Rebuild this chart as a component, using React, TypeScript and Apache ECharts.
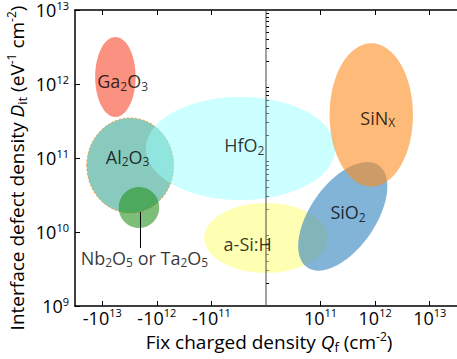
import React, { useEffect, useRef } from 'react';
import * as echarts from 'echarts';

// x axis is a signed-decade scale: -3 => -1e13, -1 => -1e11, 0 => 0, 1 => 1e11, 3 => 1e13
// y axis is log10 of Dit (eV^-1 cm^-2)
const materials = ['Ga2O3', 'Al2O3', 'HfO2', 'Nb2O5', 'a-Si:H', 'SiO2', 'SiNx'];
const centerX = [-2.76, -2.487, -0.466, -2.328, 0.0, 1.408, 1.929];
const centerY = [12.095, 10.899, 11.128, 10.331, 9.919, 10.212, 11.581];
const spreadX = [0.371, 0.797, 1.734, 0.371, 1.132, 1.141, 0.764];
const spreadY = [0.54, 0.642, 0.696, 0.277, 0.473, 0.44, 0.969];
const tiltDeg = [0, 0, 0, 0, 0, 55, 0];

const labelTexts = [
  'Ga{s|2}O{s|3}',
  'Al{s|2}O{s|3}',
  'HfO{s|2}',
  'Nb{s|2}O{s|5} or Ta{s|2}O{s|5}',
  'a-Si:H',
  'SiO{s|2}',
  'SiN{s|X}',
];
const labelX = [-2.627, -2.536, -0.399, -2.228, -0.335, 1.504, 2.047];
const labelY = [12.04, 11.014, 11.169, 9.649, 9.842, 10.27, 11.541];

// leader from the Nb2O5 / Ta2O5 disc down to its label
const leaderX = [-2.3, -2.3];
const leaderY = [10.27, 9.784];

const xTickPos = [-3, -2, -1, 1, 2, 3];
const xTickLabels = ['-10{sup|13}', '-10{sup|12}', '-10{sup|11}', '10{sup|11}', '10{sup|12}', '10{sup|13}'];
const yTickPos = [9, 10, 11, 12, 13];
const yTickLabels = ['10{sup|9}', '10{sup|10}', '10{sup|11}', '10{sup|12}', '10{sup|13}'];

const FONT = 'Open Sans';

const fills = [
  'rgba(248,98,76,0.7)',
  'rgba(57,168,147,0.6)',
  'rgba(153,255,255,0.5)',
  'rgba(38,147,30,0.6)',
  'rgba(255,255,130,0.6)',
  'rgba(47,130,188,0.6)',
  'rgba(252,140,30,0.6)',
];

const supStyle = { fontSize: 11, lineHeight: 12, fontFamily: FONT, color: '#000', padding: [0, 0, 11, 0] };
const ySupStyle = { fontSize: 11, lineHeight: 11, fontFamily: FONT, color: '#000', padding: [0, 0, 9, 0] };
const subStyle = { fontSize: 12, lineHeight: 13, fontFamily: FONT, color: '#000', padding: [10, 0, 0, 0] };
const titleSup = { fontSize: 12, lineHeight: 13, fontFamily: FONT, color: '#000', padding: [0, 0, 12, 0] };
const titleSub = { fontSize: 13, lineHeight: 14, fontFamily: FONT, color: '#000', padding: [10, 0, 0, 0] };

export default function App() {
  const ref = useRef<HTMLDivElement>(null);

  useEffect(() => {
    if (!ref.current) return;
    const chart = echarts.init(ref.current, null, { renderer: 'svg' });

    const minorY: number[] = [];
    for (let d = 9; d < 13; d++) {
      for (let k = 2; k <= 9; k++) minorY.push(d + Math.log10(k));
    }

    const regionData = materials.map((_, i) => [centerX[i], centerY[i], spreadX[i], spreadY[i], tiltDeg[i], i]);
    const labelData = materials.map((_, i) => [labelX[i], labelY[i], i]);

    const xLabelFmt = (v: number) => {
      const idx = xTickPos.findIndex((p) => Math.abs(p - v) < 1e-6);
      return idx >= 0 ? xTickLabels[idx] : '';
    };
    const yLabelFmt = (v: number) => {
      const idx = yTickPos.findIndex((p) => Math.abs(p - v) < 1e-6);
      return idx >= 0 ? yTickLabels[idx] : '';
    };

    const axisLine = { show: true, lineStyle: { color: '#000', width: 1.5 } };

    chart.setOption({
      animation: false,
      backgroundColor: '#fff',
      grid: { left: 75, top: 10, bottom: 53, right: -4 },
      xAxis: [
        {
          type: 'value',
          position: 'bottom',
          min: -3.5,
          max: 3.5,
          axisLine: { ...axisLine, onZero: false },
          splitLine: { show: false },
          axisTick: { show: true, inside: true, length: 5, customValues: xTickPos, lineStyle: { color: '#000', width: 1 } },
          axisLabel: {
            show: true,
            customValues: xTickPos,
            formatter: xLabelFmt,
            margin: 3,
            fontSize: 18,
            lineHeight: 18,
            fontFamily: FONT,
            color: '#000',
            rich: { sup: supStyle },
          },
        },
        {
          type: 'value',
          position: 'top',
          min: -3.5,
          max: 3.5,
          axisLine: { ...axisLine, onZero: false },
          splitLine: { show: false },
          axisTick: { show: true, inside: true, length: 5, customValues: xTickPos, lineStyle: { color: '#000', width: 1 } },
          axisLabel: { show: false },
        },
      ],
      yAxis: [
        {
          type: 'value',
          position: 'left',
          min: 9,
          max: 13,
          interval: 1,
          axisLine: { ...axisLine, onZero: false },
          splitLine: { show: false },
          axisTick: { show: true, inside: true, length: 5, lineStyle: { color: '#000', width: 1 } },
          axisLabel: {
            show: true,
            formatter: yLabelFmt,
            margin: 6,
            fontSize: 18,
            lineHeight: 18,
            fontFamily: FONT,
            color: '#000',
            rich: { sup: ySupStyle },
          },
        },
        {
          type: 'value',
          position: 'left',
          min: 9,
          max: 13,
          axisLine: { show: false },
          splitLine: { show: false },
          axisTick: { show: true, inside: true, length: 3, customValues: minorY, lineStyle: { color: '#000', width: 1 } },
          axisLabel: { show: false },
        },
      ],
      series: [
        {
          type: 'custom',
          xAxisIndex: 0,
          yAxisIndex: 0,
          z: 2,
          silent: true,
          clip: false,
          data: regionData,
          encode: { x: 0, y: 1 },
          renderItem: (params: any, api: any) => {
            const c = api.coord([api.value(0), api.value(1)]);
            const s = api.size([api.value(2), api.value(3)]);
            const i = api.value(5);
            const isAl = materials[i] === 'Al2O3';
            return {
              type: 'ellipse',
              x: c[0],
              y: c[1],
              rotation: (api.value(4) * Math.PI) / 180,
              shape: { cx: 0, cy: 0, rx: s[0], ry: s[1] },
              style: {
                fill: fills[i],
                stroke: isAl ? '#f0a040' : null,
                lineWidth: isAl ? 1 : 0,
                lineDash: isAl ? [2, 2] : null,
              },
            };
          },
        },
        {
          type: 'line',
          z: 3,
          silent: true,
          symbol: 'none',
          data: [[0, 9], [0, 13]],
          lineStyle: { color: '#444', width: 1 },
        },
        {
          type: 'line',
          z: 3,
          silent: true,
          symbol: 'none',
          data: leaderX.map((x, i) => [x, leaderY[i]]),
          lineStyle: { color: '#000', width: 1 },
        },
        {
          type: 'scatter',
          z: 4,
          silent: true,
          symbolSize: 0,
          data: labelData,
          label: {
            show: true,
            position: 'inside',
            formatter: (p: any) => labelTexts[p.value[2]],
            fontSize: 18,
            fontFamily: FONT,
            color: '#000',
            rich: { s: subStyle },
          },
        },
      ],
      graphic: [
        {
          type: 'text',
          x: 269,
          y: 342,
          style: {
            text: 'Fix charged density {i|Q}{sub|f} (cm{sup|-2})',
            fontSize: 19,
            lineHeight: 19,
            fontFamily: FONT,
            fill: '#000',
            align: 'center',
            verticalAlign: 'middle',
            rich: {
              i: { fontSize: 19, fontFamily: FONT, fontStyle: 'italic' },
              sub: titleSub,
              sup: titleSup,
            },
          },
        },
        {
          type: 'text',
          x: 17,
          y: 168,
          rotation: Math.PI / 2,
          style: {
            text: 'Interface defect density {i|D}{sub|it} (eV{sup|-1} cm{sup|-2})',
            fontSize: 19,
            lineHeight: 19,
            fontFamily: FONT,
            fill: '#000',
            align: 'center',
            verticalAlign: 'middle',
            rich: {
              i: { fontSize: 19, fontFamily: FONT, fontStyle: 'italic' },
              sub: titleSub,
              sup: titleSup,
            },
          },
        },
      ],
    });

    return () => chart.dispose();
  }, []);

  return (
    <div
      ref={ref}
      style={{ position: 'fixed', left: 0, top: 0, width: 457, height: 359 }}
    />
  );
}
